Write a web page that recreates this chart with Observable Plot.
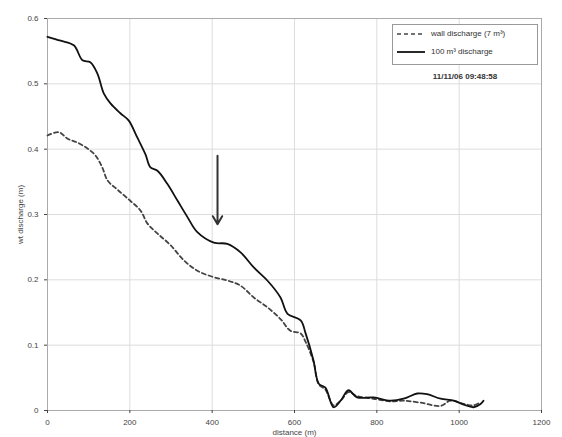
<!DOCTYPE html>
<html>
<head>
<meta charset="utf-8">
<script src="https://cdn.jsdelivr.net/npm/d3@7"></script>
<script src="https://cdn.jsdelivr.net/npm/@observablehq/plot@0.6"></script>
<style>
  html, body { margin: 0; padding: 0; background: #fff; }
  #wrap { position: relative; width: 562px; height: 437px; font-family: "Liberation Sans", Arial, sans-serif; }
  #legend { position: absolute; left: 392px; top: 24px; width: 144px; height: 39px; border: 1px solid #999; background: #fff; font-size: 8px; color: #333; }
  .row { position: absolute; left: 0; display: flex; align-items: center; }
  .row svg { margin-left: 4px; margin-right: 6px; }
  #stamp { position: absolute; left: 392px; width: 146px; top: 72px; text-align: center; font-size: 8px; font-weight: bold; color: #333; }
</style>
</head>
<body>
<div id="wrap">
  <div id="chart"></div>
  <div id="legend">
    <div class="row" style="top:4px"><svg width="28" height="6"><line x1="0" y1="3" x2="28" y2="3" stroke="#444" stroke-width="1.6" stroke-dasharray="4,3"/></svg><span id="lg0"></span></div>
    <div class="row" style="top:22px"><svg width="28" height="6"><line x1="0" y1="3" x2="28" y2="3" stroke="#111" stroke-width="1.8"/></svg><span id="lg1"></span></div>
  </div>
  <div id="stamp"></div>
</div>
<script>
const seriesNames = ["wall discharge (7 m³)", "100 m³ discharge"];
const stampText = "11/11/06 09:48:58";
const xTicks = [0, 200, 400, 600, 800, 1000, 1200];
const yTicks = [0, 0.1, 0.2, 0.3, 0.4, 0.5, 0.6];

// 100 m³ discharge (solid)
const solidX = [0, 32, 64, 85, 104, 121, 137, 153, 177, 197, 218, 238, 250, 267, 291, 316, 340, 364, 404, 437, 469, 501, 534, 566, 583, 615, 627, 646, 659, 675, 695, 712, 731, 752, 792, 833, 865, 898, 922, 955, 987, 1011, 1035, 1052, 1059];
const solidY = [0.572, 0.566, 0.559, 0.536, 0.533, 0.516, 0.485, 0.47, 0.455, 0.444, 0.418, 0.392, 0.372, 0.367, 0.347, 0.321, 0.296, 0.273, 0.257, 0.255, 0.242, 0.219, 0.199, 0.173, 0.148, 0.138, 0.118, 0.077, 0.041, 0.035, 0.005, 0.015, 0.031, 0.02, 0.02, 0.015, 0.018, 0.026, 0.025, 0.018, 0.015, 0.009, 0.005, 0.01, 0.015];

// wall discharge (dashed)
const dashX = [0, 27, 49, 73, 97, 117, 133, 146, 170, 201, 226, 243, 267, 299, 331, 364, 404, 437, 469, 501, 534, 566, 590, 615, 627, 646, 659, 675, 695, 712, 731, 752, 792, 833, 865, 906, 955, 979, 1011, 1035, 1050];
const dashY = [0.421, 0.426, 0.416, 0.41, 0.401, 0.39, 0.372, 0.352, 0.338, 0.321, 0.306, 0.286, 0.271, 0.253, 0.23, 0.214, 0.204, 0.199, 0.191, 0.173, 0.158, 0.14, 0.122, 0.118, 0.105, 0.075, 0.04, 0.032, 0.008, 0.015, 0.028, 0.022, 0.018, 0.014, 0.015, 0.012, 0.007, 0.015, 0.01, 0.008, 0.012];

// arrow annotation
const arrowX = [413];
const arrowY1 = [0.39];
const arrowY2 = [0.285];

const solid = solidX.map((x, i) => ({x, y: solidY[i]}));
const dashed = dashX.map((x, i) => ({x, y: dashY[i]}));
const arrows = arrowX.map((x, i) => ({x, y1: arrowY1[i], y2: arrowY2[i]}));

document.getElementById("lg0").textContent = seriesNames[0];
document.getElementById("lg1").textContent = seriesNames[1];
document.getElementById("stamp").textContent = stampText;

const chart = Plot.plot({
  width: 562,
  height: 437,
  marginLeft: 47,
  marginRight: 21,
  marginTop: 18,
  marginBottom: 27,
  style: {fontFamily: "Liberation Sans, Arial, sans-serif", fontSize: "8px", color: "#444", background: "#fff"},
  x: {domain: [0, 1200]},
  y: {domain: [0, 0.6]},
  marks: [
    Plot.gridX(xTicks, {stroke: "#ddd", strokeOpacity: 1}),
    Plot.gridY(yTicks, {stroke: "#ddd", strokeOpacity: 1}),
    Plot.frame({stroke: "#aaa"}),
    Plot.axisX({ticks: xTicks, tickSize: 3, tickFormat: d => String(d), label: "distance (m)", labelAnchor: "center", labelArrow: "none", labelOffset: 24}),
    Plot.axisY({ticks: yTicks, tickSize: 3, tickFormat: d => String(d), label: "wt discharge (m)", labelAnchor: "center", labelArrow: "none", labelOffset: 30}),
    Plot.line(dashed, {x: "x", y: "y", stroke: "#444", strokeWidth: 1.8, strokeDasharray: "4,3", curve: "catmull-rom"}),
    Plot.line(solid, {x: "x", y: "y", stroke: "#111", strokeWidth: 1.8, curve: "catmull-rom"}),
    Plot.arrow(arrows, {x1: "x", x2: "x", y1: "y1", y2: "y2", stroke: "#333", strokeWidth: 2, headLength: 7})
  ]
});
document.getElementById("chart").appendChild(chart);
</script>
</body>
</html>
